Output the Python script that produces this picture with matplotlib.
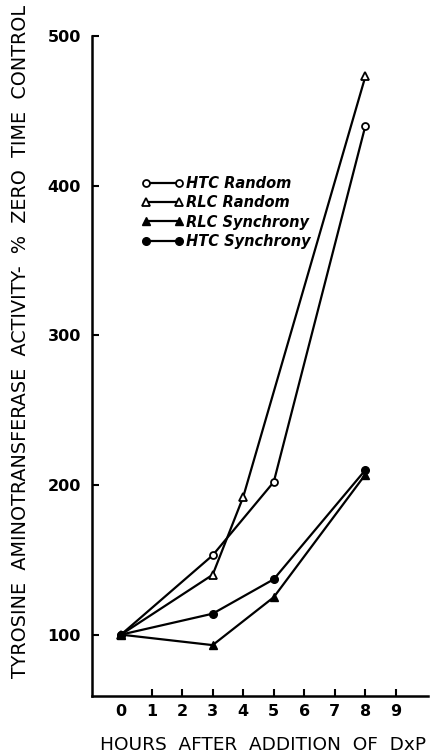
import numpy as np
import matplotlib.pyplot as plt
from matplotlib.lines import Line2D

# hours after addition of DxP
hours_a = [0, 3, 5, 8]
hours_b = [0, 3, 4, 8]

# % zero time control
htc_random = [100, 153, 202, 440]
rlc_random = [100, 140, 192, 473]
rlc_sync = [100, 93, 125, 207]
htc_sync = [100, 114, 137, 210]

xticks = list(range(10))
yticks = [100, 200, 300, 400, 500]

fig = plt.figure(figsize=(4.32, 7.54), dpi=100)
ax = fig.add_axes([92/432, 1-696/754, (428-92)/432, (696-36)/754])

lw = 1.6
ax.plot(hours_a, htc_random, '-', color='black', lw=lw, marker='o', ms=5,
        mfc='white', mec='black', mew=1.3, label='HTC Random')
ax.plot(hours_b, rlc_random, '-', color='black', lw=lw, marker='^', ms=6,
        mfc='white', mec='black', mew=1.3, label='RLC Random')
ax.plot(hours_a, rlc_sync, '-', color='black', lw=lw, marker='^', ms=6,
        mfc='black', mec='black', label='RLC Synchrony')
ax.plot(hours_a, htc_sync, '-', color='black', lw=lw, marker='o', ms=5.5,
        mfc='black', mec='black', label='HTC Synchrony')

ax.set_xlim(-0.95, 10.05)
ax.set_ylim(59, 500)
ax.set_xticks(xticks)
ax.set_xticklabels([str(t) for t in xticks])
ax.set_yticks(yticks)
ax.set_yticklabels([str(t) for t in yticks])
ax.spines['top'].set_visible(False)
ax.spines['right'].set_visible(False)
ax.spines['left'].set_linewidth(1.8)
ax.spines['bottom'].set_linewidth(1.8)
ax.tick_params(direction='in', length=5, width=1.5, labelsize=11.5)
ax.tick_params(axis='y', pad=8)
ax.tick_params(axis='x', pad=6)
ax.xaxis.get_major_ticks()[0].tick1line.set_visible(False)
for lab in ax.get_xticklabels() + ax.get_yticklabels():
    lab.set_fontweight('bold')

leg = ax.legend(loc='upper left', bbox_to_anchor=(0.13, 0.797), frameon=False,
                numpoints=2, handlelength=2.9, handletextpad=0.15,
                labelspacing=0.3, borderaxespad=0,
                prop={'size': 10.5, 'style': 'italic', 'weight': 'bold'})

fig.text(21/432, 1-341/754, 'TYROSINE  AMINOTRANSFERASE  ACTIVITY-  %  ZERO  TIME  CONTROL',
         rotation=90, ha='center', va='center', fontsize=13.8)
fig.text(263/432, 1-745/754, 'HOURS  AFTER  ADDITION  OF  DxP',
         ha='center', va='center', fontsize=13.3)

fig.savefig('out.png', dpi=100)
